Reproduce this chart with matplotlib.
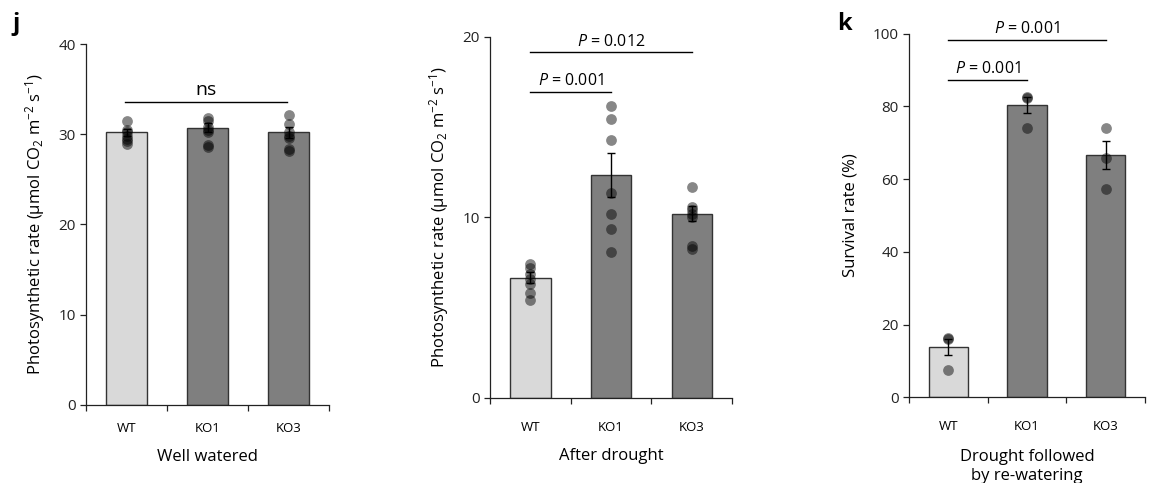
import matplotlib
matplotlib.use('Agg')
import matplotlib.pyplot as plt
import numpy as np

plt.rcParams['font.family'] = ['Open Sans', 'DejaVu Sans']
plt.rcParams['mathtext.fontset'] = 'custom'
plt.rcParams['mathtext.rm'] = 'Open Sans'
plt.rcParams['mathtext.it'] = 'Open Sans:italic'

genotypes = ['WT', 'KO1', 'KO3']

# panel j, left: well watered
ww_mean = [30.2, 30.7, 30.2]
ww_err = [0.4, 0.5, 0.6]
ww_pts = [[31.5, 30.5, 30.2, 29.8, 29.5, 29.2, 28.9],
          [31.8, 31.5, 30.8, 30.5, 30.3, 28.8, 28.6],
          [32.1, 31.1, 30.2, 29.8, 29.6, 28.4, 28.1]]

# panel j, right: after drought
ad_mean = [6.65, 12.35, 10.2]
ad_err = [0.3, 1.2, 0.42]
ad_pts = [[7.41, 7.22, 6.87, 6.6, 6.3, 5.8, 5.43],
          [16.18, 15.47, 14.28, 11.37, 10.19, 9.38, 8.07],
          [11.67, 10.6, 10.38, 10.19, 10.0, 8.42, 8.27]]

# panel k: survival
sv_mean = [13.9, 80.5, 66.7]
sv_err = [2.2, 2.2, 3.9]
sv_pts = [[16.2, 16.0, 7.5],
          [82.5, 82.3, 74.1],
          [74.1, 65.8, 57.4]]

bar_cols = ['#d9d9d9', '#7f7f7f', '#7f7f7f']
line_col = '#222222'

fig = plt.figure(figsize=(11.53, 4.83), dpi=100)


def bar_panel(rect, means, errs, pts, ymax, step, ylabel, xlabel, labelpad, catpad, xpad=10):
    ax = fig.add_axes(rect)
    x = np.arange(len(genotypes)) + 0.5
    ax.bar(x, means, width=0.5, color=bar_cols, edgecolor='#333333', linewidth=1.0, zorder=2)
    for i in range(len(genotypes)):
        ax.scatter([x[i]] * len(pts[i]), pts[i], s=60, color='black', alpha=0.47,
                   linewidths=0, zorder=3)
    ax.errorbar(x, means, yerr=errs, fmt='none', ecolor='black', elinewidth=1.0,
                capsize=3, capthick=1.0, zorder=4)
    ax.set_xlim(0, 3)
    ax.set_ylim(0, ymax)
    ax.set_yticks(np.arange(0, ymax + 0.1, step))
    ax.set_xticks([0, 1, 2, 3])
    ax.set_xticklabels([])
    ax.set_xticks(x, minor=True)
    ax.set_xticklabels(genotypes, minor=True, fontsize=9.5)
    ax.tick_params(axis='x', which='minor', length=0, pad=catpad)
    ax.tick_params(axis='both', which='major', length=4, width=0.9, color=line_col,
                   labelsize=11, labelcolor='#222222')
    for s in ['top', 'right']:
        ax.spines[s].set_visible(False)
    for s in ['left', 'bottom']:
        ax.spines[s].set_linewidth(0.9)
        ax.spines[s].set_color(line_col)
    ax.set_ylabel(ylabel, fontsize=12, labelpad=labelpad)
    ax.set_xlabel(xlabel, fontsize=12, labelpad=xpad, linespacing=1.3)
    return ax


def sig_line(ax, x0, x1, y, text, fs=11.5, dy=0.0):
    ax.plot([x0, x1], [y, y], color='black', lw=1.0, clip_on=False)
    ax.text((x0 + x1) / 2, y + dy, text, ha='center', va='bottom', fontsize=fs,
            clip_on=False)


ylab_ps = 'Photosynthetic rate (μmol CO$_{\\mathregular{2}}$ m$^{\\mathregular{-2}}$ s$^{\\mathregular{-1}}$)'

ax1 = bar_panel([0.0746, 0.1615, 0.2108, 0.7474], ww_mean, ww_err, ww_pts, 40, 10,
                ylab_ps, 'Well watered', 8, 12)
sig_line(ax1, 0.48, 2.48, 33.6, 'ns', fs=14, dy=0.3)

ax2 = bar_panel([0.425, 0.176, 0.2099, 0.748], ad_mean, ad_err, ad_pts, 20, 10,
                ylab_ps, 'After drought', 8, 16.5)
sig_line(ax2, 0.5, 2.5, 19.13, '$P$ = 0.012', dy=0.15)
sig_line(ax2, 0.5, 1.5, 16.93, '$P$ = 0.001', dy=0.15)

ax3 = bar_panel([0.7884, 0.1774, 0.2047, 0.7528], sv_mean, sv_err, sv_pts, 100, 20,
                'Survival rate (%)', 'Drought followed\nby re-watering', 10, 16.5, xpad=11)
sig_line(ax3, 0.5, 2.5, 98.2, '$P$ = 0.001', dy=0.8)
sig_line(ax3, 0.5, 1.5, 87.4, '$P$ = 0.001', dy=0.8)

fig.text(0.011, 0.95, 'j', fontsize=17, fontweight='bold', va='center')
fig.text(0.726, 0.95, 'k', fontsize=17, fontweight='bold', va='center')

fig.savefig('out.png', dpi=100)
